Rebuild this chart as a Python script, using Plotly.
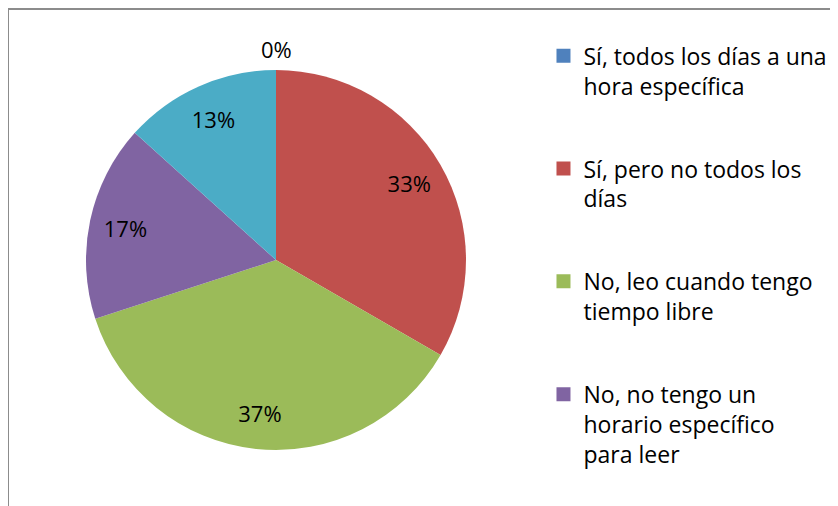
import plotly.graph_objects as go

# respuestas (n = 30)
categorias = [
    "Sí, todos los días a una<br>hora específica",
    "Sí, pero no todos los<br>días",
    "No, leo cuando tengo<br>tiempo libre",
    "No, no tengo un<br>horario específico<br>para leer",
    "Otro",
]
valores = [0, 10, 11, 5, 4]
colores = ["#4F81BD", "#C0504D", "#9BBB59", "#8064A2", "#4BACC6"]

fuente = "'Open Sans', sans-serif"
dominio = dict(x=[78 / 838, 458 / 838], y=[1 - 442 / 506, 1 - 62 / 506])
total = sum(valores)

# sectores de valor 0: la etiqueta va fuera, encima del borde
posiciones = ["none" if v == 0 else "inside" for v in valores]

fig = go.Figure()
# sectores
fig.add_trace(go.Pie(
    labels=categorias, values=valores, sort=False,
    direction="clockwise", rotation=0,
    marker=dict(colors=colores, line=dict(width=0)),
    textinfo="none", showlegend=False, hoverinfo="skip",
    domain=dominio,
))
# etiquetas de datos (anillo transparente para llevarlas hacia el borde)
fig.add_trace(go.Pie(
    labels=categorias, values=valores, sort=False,
    direction="clockwise", rotation=0, hole=0.62,
    marker=dict(colors=["rgba(0,0,0,0)"] * 5, line=dict(width=0)),
    texttemplate="%{percent:.0%}",
    textposition=posiciones,
    insidetextorientation="horizontal",
    textfont=dict(family=fuente, size=22, color="black"),
    showlegend=False,
    hoverinfo="label+value+percent",
    domain=dominio,
))

# etiqueta del sector vacio (el primero empieza arriba, en el centro)
anotaciones = []
if valores[0] == 0:
    anotaciones.append(dict(
        xref="paper", yref="paper",
        x=(dominio["x"][0] + dominio["x"][1]) / 2, y=dominio["y"][1],
        text=f"{round(100 * valores[0] / total)}%", showarrow=False,
        xanchor="center", yanchor="bottom", yshift=4,
        font=dict(family=fuente, size=22, color="black"),
    ))

# leyenda: solo se ven las cuatro primeras categorias
for nombre, color in zip(categorias[:4], colores[:4]):
    fig.add_trace(go.Scatter(
        x=[None], y=[None], mode="markers", name=nombre, legendgroup=nombre,
        marker=dict(symbol="square", size=14, color=color),
    ))

fig.update_layout(
    width=838, height=506,
    margin=dict(l=0, r=0, t=0, b=0),
    paper_bgcolor="white", plot_bgcolor="white",
    font=dict(family=fuente, size=22, color="black"),
    xaxis=dict(visible=False), yaxis=dict(visible=False),
    annotations=anotaciones,
    legend=dict(x=0.639, y=0.948, xanchor="left", yanchor="top",
                tracegroupgap=50, itemclick=False, valign="top",
                font=dict(family=fuente, size=23)),
    shapes=[dict(type="rect", xref="paper", yref="paper",
                 x0=0, x1=1.02, y0=-0.02, y1=1 - 1 / 506,
                 line=dict(color="#8c8c8c", width=2))],
)

fig.write_html("out.html")
